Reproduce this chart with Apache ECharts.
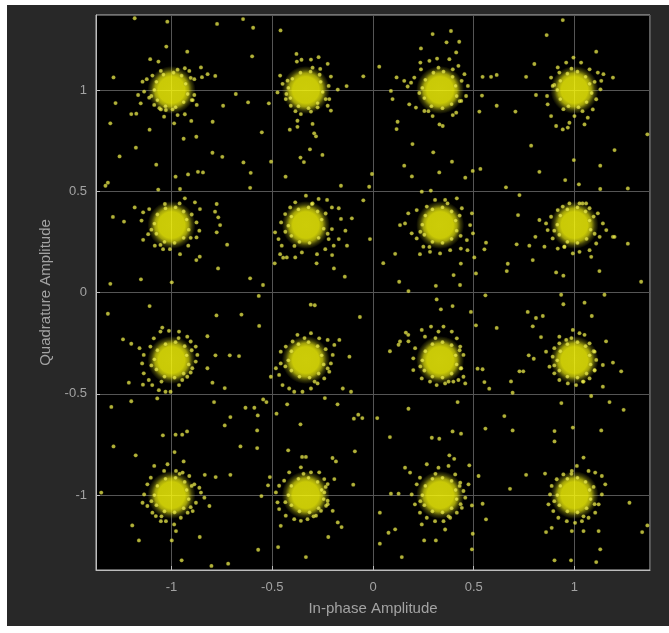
<!DOCTYPE html>
<html>
<head>
<meta charset="utf-8">
<script src="https://cdn.jsdelivr.net/npm/echarts@6/dist/echarts.min.js"></script>
<style>
  html, body { margin: 0; padding: 0; background: #ffffff; }
  #chart { position: absolute; left: 7px; top: 5px; width: 662px; height: 621px; }
</style>
</head>
<body>
<div id="chart"></div>
<script>
// 16-QAM ideal levels (normalised)
const iLevels = [-1, -1 / 3, 1 / 3, 1];
const qLevels = [1, 1 / 3, -1 / 3, -1];

// samples on the ragged rim of each cluster, one array per constellation row
const rimTop = [
  [-0.93,1.03],[-0.92,0.98],[-0.94,0.94],[-0.98,0.915],[-1.03,0.92],[-1.07,0.95],[-1.085,1.00],[-1.075,1.04],
  [-1.04,1.075],[-0.99,1.085],[-0.95,1.07],[-0.905,1.06],[-1.10,0.97],[-0.97,1.10],[-1.06,0.91],[-0.90,0.95],
  [-0.26,1.04],[-0.25,0.99],[-0.275,0.935],[-0.32,0.91],[-0.37,0.92],[-0.41,0.96],[-0.42,1.01],[-0.40,1.055],
  [-0.36,1.085],[-0.31,1.09],[-0.265,1.075],[-0.235,0.955],[-0.43,0.98],[-0.30,1.11],[-0.385,0.895],[-0.22,1.02],
  [0.41,1.02],[0.415,0.97],[0.39,0.93],[0.345,0.91],[0.29,0.92],[0.255,0.96],[0.245,1.01],[0.26,1.05],
  [0.30,1.085],[0.35,1.09],[0.395,1.065],[0.44,1.045],[0.23,0.985],[0.325,1.11],[0.275,0.895],[0.43,0.945],
  [1.075,1.03],[1.085,0.985],[1.06,0.94],[1.02,0.915],[0.97,0.92],[0.93,0.955],[0.915,1.00],[0.93,1.045],
  [0.965,1.08],[1.015,1.09],[1.055,1.065],[1.10,1.04],[0.90,1.025],[0.985,1.105],[1.04,0.895],[0.945,0.905]
];
const rimUpper = [
  [-0.925,0.36],[-0.915,0.31],[-0.94,0.27],[-0.985,0.245],[-1.035,0.25],[-1.075,0.29],[-1.085,0.34],[-1.07,0.385],
  [-1.03,0.415],[-0.98,0.42],[-0.94,0.40],[-0.90,0.385],[-1.10,0.31],[-0.96,0.44],[-1.055,0.235],[-0.905,0.27],
  [-0.255,0.36],[-0.245,0.315],[-0.27,0.27],[-0.315,0.245],[-0.365,0.25],[-0.405,0.28],[-0.42,0.33],[-0.405,0.375],
  [-0.37,0.41],[-0.32,0.42],[-0.275,0.40],[-0.235,0.39],[-0.435,0.30],[-0.30,0.44],[-0.39,0.23],[-0.225,0.29],
  [0.41,0.355],[0.415,0.305],[0.39,0.265],[0.345,0.245],[0.295,0.25],[0.255,0.285],[0.245,0.335],[0.26,0.38],
  [0.295,0.41],[0.345,0.42],[0.39,0.40],[0.43,0.38],[0.235,0.30],[0.37,0.44],[0.28,0.225],[0.435,0.28],
  [1.075,0.355],[1.08,0.31],[1.06,0.265],[1.015,0.245],[0.965,0.25],[0.925,0.285],[0.915,0.335],[0.93,0.38],
  [0.965,0.41],[1.015,0.42],[1.055,0.40],[1.095,0.375],[0.90,0.305],[1.04,0.44],[0.95,0.225],[1.10,0.29]
];
const rimLower = [
  [-0.925,-0.31],[-0.915,-0.355],[-0.94,-0.40],[-0.985,-0.42],[-1.035,-0.415],[-1.075,-0.38],[-1.085,-0.33],[-1.07,-0.285],
  [-1.03,-0.255],[-0.98,-0.245],[-0.935,-0.265],[-0.90,-0.285],[-1.10,-0.36],[-0.965,-0.225],[-1.05,-0.44],[-0.905,-0.395],
  [-0.255,-0.31],[-0.245,-0.355],[-0.27,-0.40],[-0.315,-0.42],[-0.365,-0.415],[-0.405,-0.385],[-0.42,-0.335],[-0.405,-0.29],
  [-0.37,-0.255],[-0.32,-0.245],[-0.275,-0.265],[-0.235,-0.28],[-0.435,-0.365],[-0.34,-0.225],[-0.29,-0.44],[-0.225,-0.375],
  [0.41,-0.31],[0.415,-0.355],[0.39,-0.40],[0.345,-0.42],[0.295,-0.415],[0.255,-0.385],[0.245,-0.335],[0.26,-0.29],
  [0.295,-0.255],[0.345,-0.245],[0.39,-0.26],[0.43,-0.285],[0.235,-0.365],[0.31,-0.225],[0.375,-0.44],[0.435,-0.375],
  [1.075,-0.31],[1.08,-0.355],[1.06,-0.40],[1.015,-0.42],[0.965,-0.415],[0.925,-0.385],[0.915,-0.335],[0.93,-0.29],
  [0.965,-0.255],[1.015,-0.245],[1.055,-0.265],[1.095,-0.29],[0.90,-0.36],[0.985,-0.225],[1.045,-0.44],[1.10,-0.385]
];
const rimBottom = [
  [-0.925,-0.975],[-0.915,-1.02],[-0.94,-1.065],[-0.985,-1.085],[-1.035,-1.08],[-1.075,-1.05],[-1.085,-1.00],[-1.07,-0.955],
  [-1.03,-0.92],[-0.98,-0.915],[-0.935,-0.935],[-0.90,-0.955],[-1.10,-1.03],[-0.96,-0.895],[-1.05,-1.105],[-0.905,-1.06],
  [-0.255,-0.975],[-0.245,-1.02],[-0.27,-1.065],[-0.315,-1.085],[-0.365,-1.08],[-0.405,-1.05],[-0.42,-1.00],[-0.405,-0.955],
  [-0.37,-0.92],[-0.32,-0.915],[-0.275,-0.935],[-0.235,-0.96],[-0.435,-1.035],[-0.345,-0.895],[-0.295,-1.105],[-0.225,-1.045],
  [0.41,-0.975],[0.415,-1.02],[0.39,-1.065],[0.345,-1.085],[0.295,-1.08],[0.255,-1.05],[0.245,-1.00],[0.26,-0.955],
  [0.295,-0.92],[0.345,-0.915],[0.39,-0.93],[0.43,-0.955],[0.235,-1.03],[0.31,-0.895],[0.375,-1.105],[0.435,-1.045],
  [1.075,-0.975],[1.08,-1.02],[1.06,-1.065],[1.015,-1.085],[0.965,-1.08],[0.925,-1.05],[0.915,-1.00],[0.93,-0.955],
  [0.965,-0.92],[1.015,-0.915],[1.055,-0.935],[1.095,-0.96],[0.90,-1.03],[0.985,-0.895],[1.045,-1.105],[1.10,-1.045]
];

// looser samples around each cluster, one array per constellation row
const haloTop = [
  [-1.106,1.152],[-1.065,1.140],[-1.053,1.094],[-0.934,1.107],[-0.912,1.094],[-0.854,1.111],[-0.821,1.078],[-0.783,1.069],
  [-0.849,1.063],[-0.887,1.053],[-1.144,1.041],[-1.123,1.053],[-1.095,1.071],[-1.136,0.992],[-1.111,0.962],[-0.887,0.975],
  [-0.875,0.926],[-0.895,0.950],[-1.053,0.904],[-1.028,0.901],[-0.995,0.904],[-1.086,0.926],[-0.970,0.876],[-0.934,0.880],
  [-1.037,0.868],[-0.987,0.835],[-1.166,0.975],[-1.153,0.934],
  [-0.380,1.178],[-0.355,1.149],[-0.378,1.140],[-0.308,1.150],[-0.270,1.162],[-0.225,1.129],[-0.262,1.104],[-0.209,1.066],
  [-0.175,1.002],[-0.217,0.955],[-0.225,0.922],[-0.209,0.898],[-0.275,0.914],[-0.308,0.893],[-0.358,0.881],[-0.375,0.848],
  [-0.413,0.804],[-0.375,0.818],[-0.292,0.786],[-0.283,0.771],[-0.300,0.832],[-0.474,0.988],[-0.449,1.030],[-0.424,1.046],
  [-0.433,0.955],[-0.408,0.922],[-0.461,1.071],
  [0.235,1.135],[0.280,1.144],[0.318,1.155],[0.379,1.152],[0.413,1.185],[0.424,1.119],[0.396,1.102],[0.454,1.078],
  [0.471,1.020],[0.462,0.970],[0.438,0.946],[0.413,0.888],[0.346,0.822],[0.330,0.830],[0.296,0.871],[0.255,0.896],
  [0.213,0.913],[0.180,0.929],[0.172,1.017],[0.189,1.036],[0.155,1.045],[0.089,0.995],[0.205,1.061],[0.238,1.102],[0.396,0.876],
  [0.995,1.160],[0.959,1.135],[0.917,1.111],[1.033,1.135],[1.075,1.102],[1.116,1.086],[1.144,1.078],[1.133,1.045],
  [1.129,1.003],[1.108,0.954],[1.091,0.904],[1.066,0.863],[1.050,0.830],[1.000,0.871],[0.975,0.838],[0.942,0.805],
  [0.909,0.822],[0.884,0.871],[0.867,0.929],[0.864,0.970],[0.892,1.020],[0.884,1.061],[0.925,1.086],[0.967,0.814]
];
const haloUpper = [
  [-1.066,0.508],[-0.958,0.511],[-0.934,0.465],[-0.884,0.445],[-0.859,0.412],[-0.776,0.437],[-0.784,0.399],[-0.768,0.371],
  [-0.876,0.346],[-0.862,0.305],[-0.876,0.272],[-0.776,0.297],[-0.759,0.333],[-0.917,0.231],[-0.958,0.189],[-1.008,0.214],
  [-1.042,0.214],[-1.083,0.231],[-1.116,0.288],[-1.141,0.260],[-1.149,0.355],[-1.141,0.396],[-1.111,0.412],[-1.183,0.420],[-1.033,0.437],
  [-0.333,0.478],[-0.270,0.462],[-0.228,0.457],[-0.204,0.420],[-0.170,0.416],[-0.159,0.363],[-0.204,0.313],[-0.220,0.264],
  [-0.170,0.264],[-0.195,0.231],[-0.237,0.214],[-0.278,0.189],[-0.353,0.198],[-0.386,0.173],[-0.428,0.173],[-0.461,0.189],
  [-0.453,0.231],[-0.469,0.264],[-0.486,0.297],[-0.456,0.346],[-0.436,0.387],[-0.411,0.420],[-0.386,0.445],[-0.303,0.437],
  [-0.137,0.305],[-0.129,0.231],
  [0.242,0.498],[0.287,0.503],[0.308,0.457],[0.358,0.457],[0.416,0.465],[0.441,0.416],[0.491,0.391],[0.482,0.333],
  [0.496,0.292],[0.466,0.259],[0.436,0.217],[0.383,0.209],[0.333,0.193],[0.283,0.201],[0.250,0.226],[0.217,0.267],
  [0.192,0.292],[0.159,0.341],[0.134,0.333],[0.175,0.391],[0.217,0.407],[0.267,0.424],[0.233,0.189],[0.436,0.143],[0.469,0.209],
  [0.975,0.440],[1.025,0.440],[1.075,0.416],[1.116,0.391],[1.141,0.341],[1.158,0.308],[1.125,0.275],[1.108,0.242],
  [1.075,0.209],[1.025,0.201],[0.992,0.193],[0.950,0.226],[0.917,0.217],[0.892,0.267],[0.867,0.308],[0.859,0.341],
  [0.884,0.374],[0.917,0.407],[0.942,0.424],[1.058,0.440],[1.083,0.176],[1.191,0.275],[0.851,0.226],[0.826,0.358]
];
const haloLower = [
  [-1.046,-0.173],[-1.013,-0.189],[-1.055,-0.193],[-0.963,-0.193],[-0.922,-0.218],[-0.905,-0.242],[-0.880,-0.267],[-0.872,-0.308],
  [-0.880,-0.341],[-0.897,-0.374],[-0.922,-0.416],[-0.947,-0.432],[-0.963,-0.457],[-1.005,-0.490],[-1.030,-0.490],[-1.063,-0.482],
  [-1.071,-0.523],[-1.096,-0.457],[-1.113,-0.432],[-1.138,-0.399],[-1.146,-0.350],[-1.138,-0.308],[-1.105,-0.267],[-1.088,-0.226],
  [-1.159,-0.275],[-0.822,-0.374],
  [-0.375,-0.209],[-0.308,-0.201],[-0.267,-0.226],[-0.225,-0.234],[-0.192,-0.259],[-0.167,-0.234],[-0.200,-0.308],[-0.209,-0.350],
  [-0.217,-0.391],[-0.242,-0.424],[-0.275,-0.449],[-0.308,-0.474],[-0.350,-0.490],[-0.391,-0.490],[-0.416,-0.474],[-0.449,-0.457],
  [-0.466,-0.407],[-0.482,-0.374],[-0.507,-0.416],[-0.458,-0.350],[-0.458,-0.292],[-0.433,-0.267],[-0.399,-0.242],[-0.150,-0.474],
  [-0.117,-0.317],[-0.109,-0.490],
  [0.242,-0.185],[0.288,-0.168],[0.325,-0.193],[0.350,-0.168],[0.391,-0.193],[0.416,-0.226],[0.433,-0.267],[0.449,-0.308],
  [0.438,-0.374],[0.449,-0.416],[0.458,-0.449],[0.424,-0.432],[0.399,-0.440],[0.358,-0.449],[0.316,-0.457],[0.283,-0.440],
  [0.242,-0.424],[0.200,-0.383],[0.200,-0.325],[0.209,-0.275],[0.134,-0.242],[0.175,-0.209],[0.258,-0.218],
  [0.992,-0.185],[1.025,-0.201],[1.050,-0.209],[1.075,-0.251],[1.100,-0.292],[1.108,-0.333],[1.100,-0.383],[1.075,-0.424],
  [1.042,-0.440],[1.008,-0.457],[0.967,-0.449],[0.925,-0.432],[0.900,-0.399],[0.876,-0.366],[0.892,-0.317],[0.900,-0.275],
  [0.925,-0.251],[0.959,-0.234],[0.859,-0.292],[1.141,-0.358],[0.925,-0.218],[1.141,-0.465]
];
const haloBottom = [
  [-1.086,-0.856],[-1.020,-0.848],[-0.978,-0.881],[-0.945,-0.889],[-0.912,-0.906],[-0.887,-0.947],[-0.862,-0.964],[-0.854,-0.988],
  [-0.837,-1.013],[-0.879,-1.038],[-0.895,-1.079],[-0.920,-1.087],[-0.954,-1.112],[-0.987,-1.145],[-1.028,-1.129],[-1.053,-1.129],
  [-1.078,-1.104],[-1.095,-1.087],[-1.120,-1.054],[-1.144,-1.038],[-1.136,-0.997],[-1.120,-0.947],[-1.103,-0.914],[-1.037,-0.881],
  [-0.812,-1.054],[-0.978,-1.178],
  [-0.416,-0.888],[-0.358,-0.863],[-0.308,-0.888],[-0.267,-0.888],[-0.242,-0.921],[-0.225,-0.946],[-0.242,-0.987],[-0.225,-1.028],
  [-0.233,-1.053],[-0.258,-1.078],[-0.283,-1.102],[-0.325,-1.119],[-0.358,-1.127],[-0.391,-1.119],[-0.433,-1.102],[-0.466,-1.069],
  [-0.474,-1.036],[-0.482,-0.987],[-0.466,-0.954],[-0.441,-0.929],[-0.200,-1.078],[-0.175,-1.135],[-0.192,-0.921],[-0.458,-1.152],
  [0.267,-0.848],[0.325,-0.865],[0.375,-0.856],[0.408,-0.898],[0.433,-0.939],[0.449,-0.980],[0.458,-1.013],[0.441,-1.063],
  [0.416,-1.087],[0.383,-1.112],[0.350,-1.129],[0.308,-1.129],[0.267,-1.112],[0.233,-1.087],[0.208,-1.046],[0.192,-0.997],
  [0.217,-0.947],[0.233,-0.914],[0.184,-0.889],[0.159,-0.865],[0.242,-1.145],[0.358,-1.170],[0.474,-0.947],
  [0.987,-0.881],[1.012,-0.856],[1.045,-0.815],[1.070,-0.881],[1.103,-0.889],[1.136,-0.906],[1.153,-0.947],[1.136,-0.997],
  [1.120,-1.046],[1.103,-1.087],[1.070,-1.112],[1.037,-1.129],[1.003,-1.137],[0.962,-1.129],[0.920,-1.112],[0.895,-1.079],
  [0.871,-1.046],[0.879,-0.997],[0.887,-0.955],[0.912,-0.922],[0.945,-0.898],[0.854,-0.894],[0.887,-1.162],[0.987,-1.178],
  [1.045,-1.178],[1.120,-1.178]
];

// stray samples between symbols, one array per quadrant
const strayUpperLeft = [
  [-1.183,1.354],[-1.021,1.337],[-0.774,1.326],[-0.645,1.350],[-0.595,1.307],[-0.459,1.294],[-0.600,1.166],[-0.922,1.189],
  [-1.026,1.214],[-1.288,1.062],[-0.048,1.067],[-0.131,1.019],[-1.278,0.935],[-1.200,0.881],[-1.175,0.883],[-1.304,0.835],
  [-0.744,0.922],[-0.681,0.980],[-0.620,0.939],[-0.517,0.934],[-1.109,0.804],[-0.902,0.847],[-0.796,0.843],[-0.940,0.759],
  [-0.877,0.769],[-0.552,0.791],[-0.313,0.707],[-1.177,0.715],[-1.258,0.672],[-1.076,0.631],[-0.748,0.670],[-0.797,0.690],
  [-0.643,0.642],[-0.506,0.646],[-0.343,0.644],[-0.251,0.679],[-0.360,0.666],[-1.316,0.542],[-1.328,0.527],[-0.980,0.572],
  [-0.869,0.596],[-0.844,0.593],[-0.918,0.583],[-0.607,0.591],[-0.610,0.517],[-0.434,0.572],[-0.159,0.527],[-0.019,0.522],
  [-0.005,0.585],[-1.291,0.373],[-1.236,0.350],[-0.048,0.455],[-0.015,0.264],[-0.105,0.366],[-0.769,0.119],[-0.860,0.177],
  [-0.877,0.160],[-0.724,0.236],[-0.610,0.070],[-0.546,0.037],[-1.304,0.043],[-1.152,0.065],[-0.999,0.050],[-0.140,0.078],
  [-0.194,0.119],[-0.280,0.144],[-0.446,0.172],[-0.488,0.144],[-0.203,0.185]
];
const strayUpperRight = [
  [0.942,1.345],[0.862,1.271],[0.296,1.276],[0.387,1.291],[0.365,1.235],[0.428,1.238],[0.238,1.205],[0.031,1.115],
  [0.117,1.062],[0.544,1.065],[0.586,1.065],[0.614,1.074],[0.760,1.065],[0.801,1.128],[1.108,1.189],[1.191,1.061],
  [0.809,0.975],[0.614,0.922],[0.541,0.972],[0.528,0.893],[0.707,0.893],[0.097,0.955],[0.122,0.843],[0.117,0.807],
  [0.196,0.733],[0.299,0.692],[0.155,0.626],[0.193,0.573],[0.392,0.646],[0.329,0.593],[0.495,0.600],[0.533,0.610],
  [0.458,0.567],[0.785,0.725],[0.826,0.596],[0.997,0.654],[1.199,0.703],[1.128,0.626],[0.954,0.555],[1.022,0.534],
  [1.128,0.511],[1.265,0.514],[1.362,0.781],[0.660,0.519],[0.727,0.481],[0.720,0.382],[0.713,0.238],[0.776,0.231],
  [0.806,0.275],[0.793,0.160],[0.669,0.142],[0.664,0.106],[0.561,0.246],[0.553,0.213],[0.503,0.173],[0.511,0.094],
  [0.051,0.145],[0.110,0.191],[0.130,0.053],[0.176,0.007],[0.312,0.033],[0.400,0.086],[0.432,0.037],[0.909,0.099],
  [0.945,0.083],[1.124,0.106],[1.265,0.241],[1.331,0.053],[1.199,0.275]
];
const strayLowerLeft = [
  [-1.316,-0.105],[-1.109,-0.067],[-0.777,-0.113],[-0.653,-0.109],[-0.567,-0.017],[-0.565,-0.165],[-0.309,-0.060],[-0.289,-0.063],
  [-0.065,-0.121],[-1.241,-0.231],[-1.200,-0.253],[-0.822,-0.216],[-0.782,-0.310],[-0.711,-0.310],[-0.665,-0.314],[-0.736,-0.472],
  [-0.797,-0.445],[-1.212,-0.445],[-1.142,-0.455],[-1.200,-0.537],[-1.299,-0.565],[-0.789,-0.541],[-0.633,-0.569],[-0.589,-0.569],
  [-0.572,-0.607],[-0.708,-0.615],[-0.736,-0.656],[-0.545,-0.528],[-0.529,-0.541],[-0.479,-0.598],[-0.426,-0.552],[-0.360,-0.651],
  [-0.239,-0.521],[-0.176,-0.552],[-0.095,-0.623],[-0.073,-0.603],[-0.053,-0.620],[-1.043,-0.705],[-0.980,-0.702],[-0.947,-0.702],
  [-0.923,-0.686],[-0.985,-0.788],[-1.288,-0.760],[-1.178,-0.804],[-0.658,-0.760],[-0.575,-0.768],[-0.575,-0.681],[-0.940,-0.834],
  [-0.835,-0.900],[-0.781,-0.911],[-0.708,-0.900],[-0.421,-0.779],[-0.352,-0.812],[-0.333,-0.812],[-0.201,-0.817],[-0.184,-0.834],
  [-0.090,-0.784],[-0.098,-0.949],[-1.349,-0.988],[-0.512,-0.911],[-0.521,-0.952],[-0.554,-1.005],[-1.195,-1.150],[-1.162,-1.224],
  [-0.999,-1.224],[-0.950,-1.322],[-0.802,-1.350],[-0.719,-1.339],[-0.570,-1.270],[-0.471,-1.257],[-0.333,-1.306],[-0.222,-1.207],
  [-0.156,-1.158],[-0.860,-1.207]
];
const strayLowerRight = [
  [0.316,-0.034],[0.558,-0.014],[0.934,-0.011],[1.149,-0.011],[0.337,-0.083],[0.395,-0.067],[0.486,-0.096],[0.511,-0.162],
  [0.614,-0.175],[0.768,-0.096],[0.809,-0.126],[0.843,-0.116],[0.793,-0.167],[0.834,-0.220],[0.945,-0.058],[1.050,-0.050],
  [1.086,-0.116],[1.191,-0.346],[1.232,-0.389],[1.157,-0.241],[0.084,-0.290],[0.127,-0.258],[0.163,-0.198],[0.176,-0.241],
  [0.553,-0.442],[0.577,-0.475],[0.693,-0.495],[0.685,-0.439],[0.727,-0.389],[0.746,-0.389],[0.773,-0.310],[0.798,-0.327],
  [0.519,-0.376],[0.544,-0.379],[0.021,-0.620],[0.084,-0.714],[0.176,-0.574],[0.292,-0.717],[0.329,-0.722],[0.395,-0.686],
  [0.437,-0.697],[0.420,-0.541],[0.652,-0.610],[0.558,-0.672],[0.693,-0.681],[0.901,-0.684],[0.901,-0.735],[0.992,-0.667],
  [1.133,-0.681],[1.174,-0.541],[1.244,-0.579],[1.083,-0.511],[0.935,-0.546],[0.379,-0.804],[0.403,-0.821],[0.478,-0.853],
  [0.524,-0.906],[0.760,-0.900],[0.034,-1.087],[0.089,-0.993],[0.127,-0.993],[0.491,-1.051],[0.544,-1.043],[0.561,-1.120],
  [0.680,-0.969],[0.495,-1.191],[0.034,-1.240],[0.077,-1.186],[0.110,-1.169],[0.254,-1.224],[0.312,-1.224],[0.143,-1.306],
  [0.491,-1.268],[1.128,-1.268],[1.108,-1.331],[0.901,-1.322],[0.983,-1.322],[0.859,-1.183],[1.336,-1.183],[1.362,-1.150],
  [1.273,-1.038]
];

const axisName = { x: 'In-phase Amplitude', y: 'Quadrature Amplitude' };

// the dense centre of every cluster sits on its symbol
const symbolCentres = [];
qLevels.forEach(q => iLevels.forEach(i => symbolCentres.push([i, q])));

const samples = [].concat(
  rimTop, rimUpper, rimLower, rimBottom,
  haloTop, haloUpper, haloLower, haloBottom,
  strayUpperLeft, strayUpperRight, strayLowerLeft, strayLowerRight);

const textColor = '#a3a3a3';
const font = 'Liberation Sans, Arial, Helvetica, sans-serif';

function valueAxis(name, lim, isY) {
  return {
    type: 'value',
    min: -lim, max: lim,
    splitNumber: 5,
    name: name,
    nameLocation: 'middle',
    nameGap: isY ? 38 : 31,
    nameTextStyle: { color: textColor, fontSize: 15, fontFamily: font },
    axisLine: { show: true, onZero: false, lineStyle: { color: '#bdbdbd', width: 1 } },
    axisTick: { show: true, inside: true, length: 4, lineStyle: { color: '#bdbdbd' } },
    axisLabel: {
      color: textColor, fontSize: 13, fontFamily: font, margin: isY ? 9 : 11,
      showMinLabel: false, showMaxLabel: false
    },
    splitLine: { show: true, lineStyle: { color: '#555555', width: 1 } }
  };
}

// density of the received cloud: solid in the middle, thinning outwards
const cloudFill = {
  type: 'radial', x: 0.5, y: 0.5, r: 0.5,
  colorStops: [
    { offset: 0, color: 'rgba(255,255,10,1)' },
    { offset: 0.55, color: 'rgba(252,252,8,1)' },
    { offset: 0.7, color: 'rgba(244,244,15,0.82)' },
    { offset: 0.85, color: 'rgba(225,225,25,0.32)' },
    { offset: 1, color: 'rgba(210,210,25,0)' }
  ]
};

const chart = echarts.init(document.getElementById('chart'), null, { renderer: 'canvas' });
chart.setOption({
  backgroundColor: '#282828',
  animation: false,
  grid: {
    left: 89, top: 10, width: 554, height: 555,
    show: true, backgroundColor: '#000000', borderColor: '#bdbdbd', borderWidth: 1
  },
  xAxis: valueAxis(axisName.x, 1.375, false),
  yAxis: valueAxis(axisName.y, 1.37, true),
  series: [
    {
      name: 'cluster core', type: 'scatter', data: symbolCentres,
      symbolSize: 48, silent: true, z: 3,
      itemStyle: { color: cloudFill }
    },
    {
      name: 'received', type: 'scatter', data: samples,
      symbolSize: 3.8, silent: true, z: 4,
      itemStyle: { color: 'rgba(242,242,80,0.92)', borderColor: 'rgba(120,120,20,0.5)', borderWidth: 0.5 }
    }
  ]
});
</script>
</body>
</html>
